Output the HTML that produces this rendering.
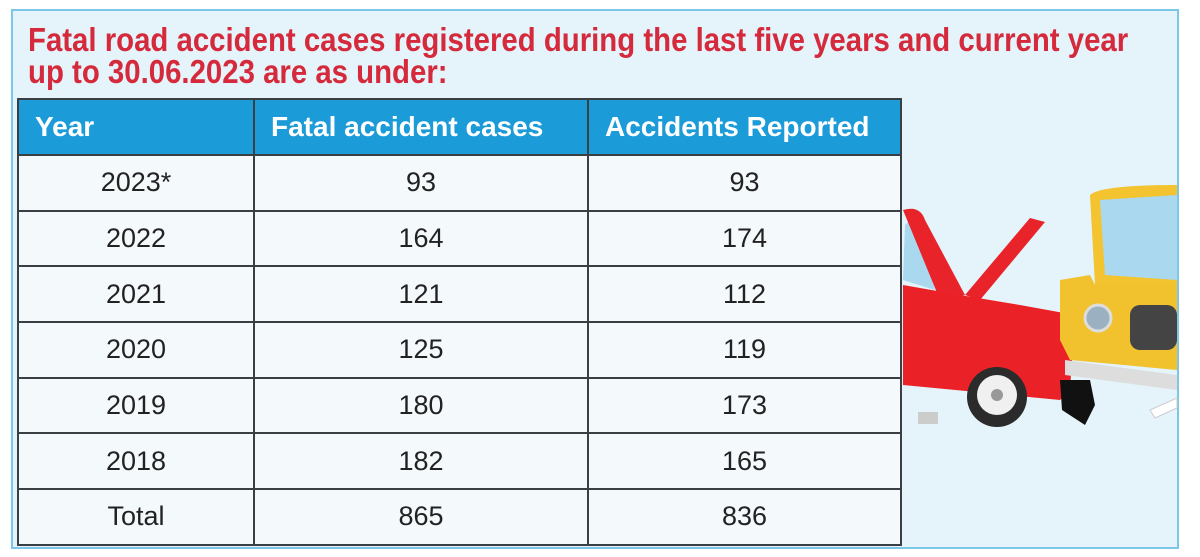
<!DOCTYPE html>
<html><head><style>
body{margin:0;width:1200px;height:557px;background:#fff;position:relative;overflow:hidden;font-family:"Liberation Sans",sans-serif}
#box{position:absolute;left:11px;top:9px;width:1164px;height:536px;background:#e5f3fb;border:2px solid #7cc6e8}
.t{position:absolute;left:28px;color:#d42a3c;font-weight:bold;font-size:33px;line-height:31px;white-space:nowrap;transform:scaleX(0.89);transform-origin:0 0}
table{position:absolute;left:17px;top:98px;border-collapse:collapse;table-layout:fixed}
td,th{border:2px solid #3a3f44;height:53.7px;padding:0;font-size:27px;color:#222}
th{background:#1b9bd7;color:#fff;text-align:left;padding-left:16px;font-weight:bold;font-size:28px;height:54px}
td{background:#f4f9fc;text-align:center}
</style></head><body>
<div id="box"></div>
<div class="t" style="top:24px">Fatal road accident cases registered during the last five years and current year</div>
<div class="t" style="top:56px">up to 30.06.2023 are as under:</div>
<table>
<colgroup><col style="width:236px"><col style="width:334px"><col style="width:313px"></colgroup>
<tr><th>Year</th><th>Fatal accident cases</th><th>Accidents Reported</th></tr>
<tr><td>2023*</td><td>93</td><td>93</td></tr>
<tr><td>2022</td><td>164</td><td>174</td></tr>
<tr><td>2021</td><td>121</td><td>112</td></tr>
<tr><td>2020</td><td>125</td><td>119</td></tr>
<tr><td>2019</td><td>180</td><td>173</td></tr>
<tr><td>2018</td><td>182</td><td>165</td></tr>
<tr><td>Total</td><td>865</td><td>836</td></tr>
</table>
<svg style="position:absolute;left:0;top:0" width="1200" height="557">
<path d="M903 280 L905 225 L915 215 L935 290 Z" fill="#a9d8ef"/>
<path d="M903 210 Q920 205 925 220 L965 295 L940 300 Z" fill="#e8232a"/>
<path d="M965 295 L1030 218 L1045 222 L980 300 Z" fill="#e8232a"/>
<path d="M903 285 L960 295 L1020 305 L1075 315 L1070 390 L1060 400 L903 385 Z" fill="#ea2228"/>
<circle cx="997" cy="397" r="30" fill="#2b2b2b"/>
<circle cx="997" cy="395" r="20" fill="#f0f0f0"/>
<circle cx="997" cy="395" r="6" fill="#999"/>
<path d="M1060 380 L1090 380 L1095 405 L1085 425 L1062 410 Z" fill="#111"/>
<path d="M1090 195 Q1100 185 1177 185 L1177 290 L1095 285 Z" fill="#f4c430"/>
<path d="M1100 200 L1177 195 L1177 280 L1105 275 Z" fill="#a9d8ef"/>
<path d="M1060 280 L1090 275 L1095 285 L1177 285 L1177 370 L1070 360 L1060 340 Z" fill="#f2c12e"/>
<circle cx="1098" cy="318" r="13" fill="#9bb0c0" stroke="#ddd" stroke-width="3"/>
<rect x="1130" y="305" width="47" height="45" rx="10" fill="#444"/>
<path d="M1065 360 L1177 375 L1177 390 L1065 375 Z" fill="#ddd"/>
<path d="M1150 410 L1177 398 L1177 408 L1155 418 Z" fill="#fff" stroke="#ccc"/>
<rect x="918" y="412" width="20" height="12" fill="#ccc"/>
</svg>
</body></html>
